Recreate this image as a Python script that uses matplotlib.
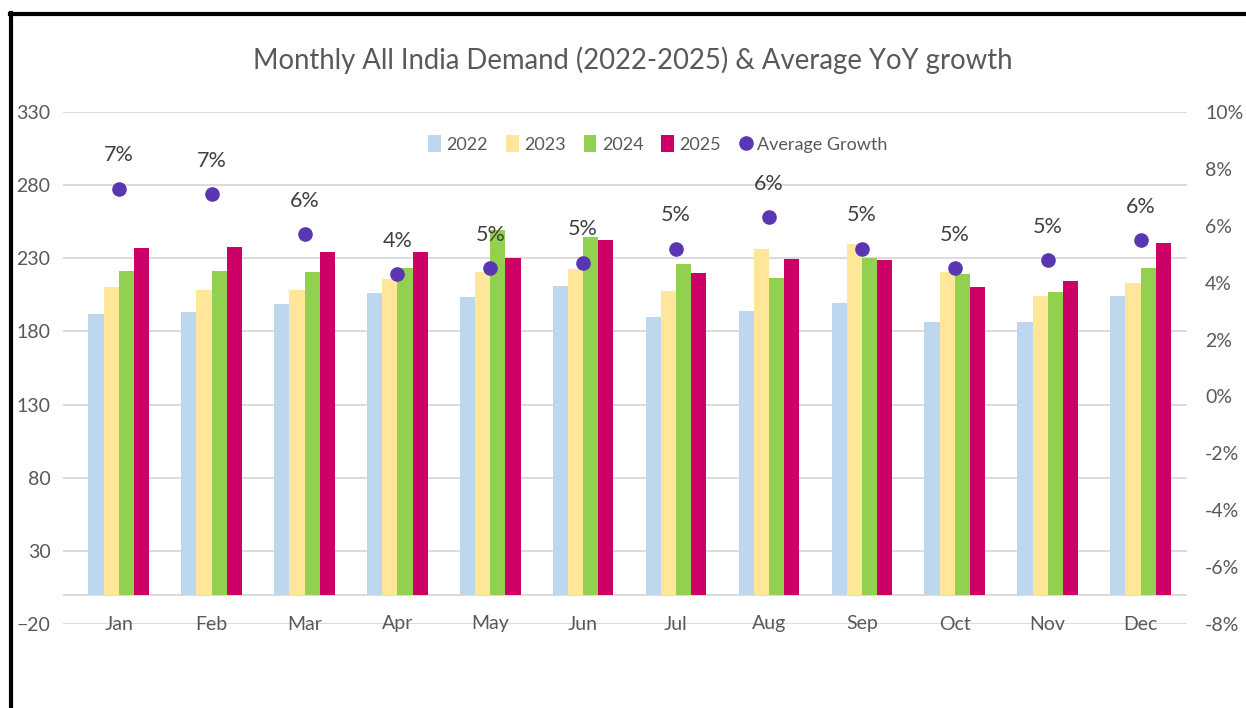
import matplotlib
matplotlib.use("Agg")
import matplotlib.pyplot as plt
import numpy as np

# -------------------------------
# Data
# -------------------------------
months = ["Jan", "Feb", "Mar", "Apr", "May", "Jun", "Jul", "Aug", "Sep", "Oct", "Nov", "Dec"]
years = ["2022", "2023", "2024", "2025"]

demand_2022 = [191.7, 193.3, 198.5, 206.3, 203.6, 211.3, 189.9, 194.2, 199.5, 186.4, 186.4, 204.5]
demand_2023 = [210.4, 208.6, 208.6, 215.7, 220.7, 222.5, 207.9, 236.2, 239.6, 220.9, 204.5, 213.1]
demand_2024 = [221.6, 221.6, 220.7, 223.5, 249.6, 244.7, 225.9, 216.3, 230.3, 219.1, 207.0, 223.5]
demand_2025 = [237.1, 238.0, 234.6, 234.6, 230.3, 242.2, 220.0, 229.4, 228.7, 210.7, 214.7, 240.6]

avg_growth = [7.3, 7.1, 5.7, 4.3, 4.5, 4.7, 5.2, 6.3, 5.2, 4.5, 4.8, 5.5]  # %
growth_labels = ["7%", "7%", "6%", "4%", "5%", "5%", "5%", "6%", "5%", "5%", "5%", "6%"]

left_ticks = [-20, 30, 80, 130, 180, 230, 280, 330]
right_ticks = [-8, -6, -4, -2, 0, 2, 4, 6, 8, 10]

colors = ["#BDD7EE", "#FFE699", "#92D050", "#CC0066"]
dot_color = "#5B36B2"
text_color = "#595959"
grid_color = "#D9D9D9"

plt.rcParams["font.family"] = ["Lato", "DejaVu Sans"]

# -------------------------------
# Figure
# -------------------------------
W, H = 1246, 708
fig = plt.figure(figsize=(W / 100, H / 100), dpi=100)
ax = fig.add_axes([63 / W, 1 - 624 / H, (1187 - 63) / W, (624 - 112) / H])

x = np.arange(len(months))
bw = 0.163
series = [demand_2022, demand_2023, demand_2024, demand_2025]
for k, (vals, col, yr) in enumerate(zip(series, colors, years)):
    ax.bar(x + (k - 1.5) * bw, vals, width=bw, color=col, label=yr, zorder=3, linewidth=0)

ax.set_ylim(-20, 330)
ax.set_xlim(-0.6, 11.5)
ax.set_yticks(left_ticks)
ax.yaxis.grid(True, color=grid_color, linewidth=1.3, zorder=0)
ax.axhline(0, color=grid_color, linewidth=1.3, zorder=2)
ax.set_xticks([])
ax.tick_params(axis="y", length=0, pad=9, labelsize=14, labelcolor=text_color)
for s in ax.spines.values():
    s.set_visible(False)

# month labels sit on the bottom gridline
for i, m in enumerate(months):
    ax.text(i, 0, m, transform=ax.get_xaxis_transform(), ha="center", va="center",
            fontsize=14, color=text_color)

# -------------------------------
# Growth on secondary axis
# -------------------------------
ax2 = ax.twinx()
ax2.set_ylim(-8, 10)
ax2.set_yticks(right_ticks)
ax2.set_yticklabels([f"{t}%" for t in right_ticks])
ax2.tick_params(axis="y", length=0, pad=13, labelsize=14, labelcolor=text_color)
for s in ax2.spines.values():
    s.set_visible(False)

ax2.plot(x, avg_growth, linestyle="none", marker="o", markersize=9.5,
         color=dot_color, label="Average Growth", zorder=5)
for i, (g, lab) in enumerate(zip(avg_growth, growth_labels)):
    ax2.annotate(lab, (i, g), xytext=(0, 24), textcoords="offset points",
                 ha="center", va="center", fontsize=15.5, color="#404040")

# legend
h1, l1 = ax.get_legend_handles_labels()
h2, l2 = ax2.get_legend_handles_labels()
fig.legend(h1 + h2, l1 + l2, loc="center", bbox_to_anchor=(658 / W, 1 - 144 / H),
           ncol=5, frameon=False, fontsize=13, labelcolor=text_color,
           handlelength=0.7, handleheight=1.0, handletextpad=0.3, columnspacing=1.0)

# title
fig.text(633 / W, 1 - 60 / H, "Monthly All India Demand (2022-2025) & Average YoY growth",
         ha="center", va="center", fontsize=19.8, color=text_color)

# black frame of the screenshot (top and left edges)
fig.add_artist(plt.Line2D([10 / W, 1], [1 - 14 / H, 1 - 14 / H], color="black", linewidth=3))
fig.add_artist(plt.Line2D([11 / W, 11 / W], [0, 1 - 13 / H], color="black", linewidth=3))

plt.savefig("out.png", dpi=100)
